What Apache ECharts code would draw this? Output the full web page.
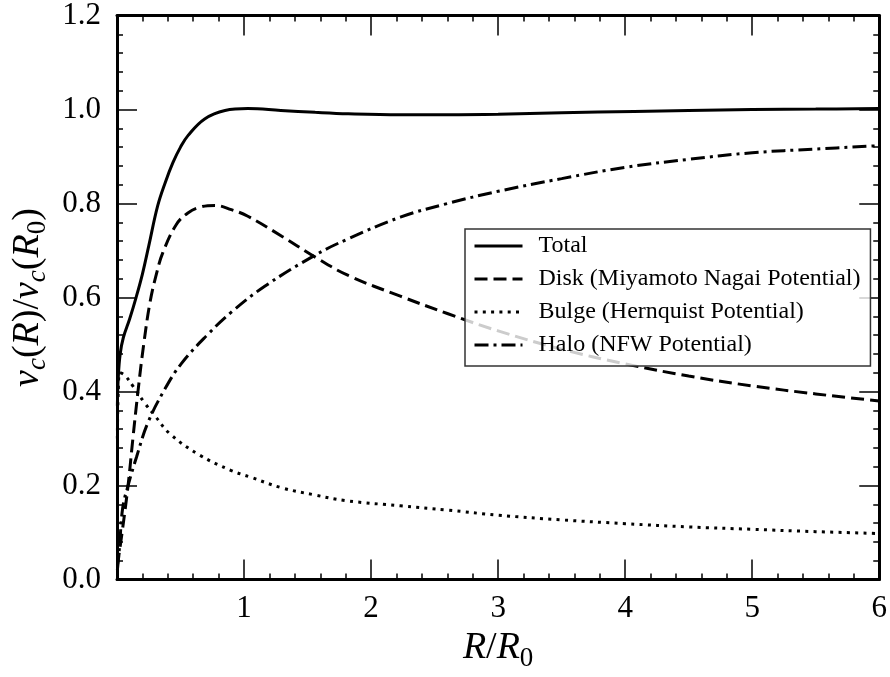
<!DOCTYPE html>
<html><head><meta charset="utf-8">
<script src="https://cdn.jsdelivr.net/npm/echarts@6/dist/echarts.min.js"></script>
<style>html,body{margin:0;padding:0;background:#fff}#c{width:890px;height:677px}</style>
</head><body><div id="c"></div>
<script>
const seriesNames = ['Total', 'Disk (Miyamoto Nagai Potential)', 'Bulge (Hernquist Potential)', 'Halo (NFW Potential)'];

const totalX = [0.003, 0.01, 0.025, 0.05, 0.1, 0.15, 0.2, 0.25, 0.32, 0.38, 0.44, 0.5, 0.56, 0.69, 0.85, 1.03, 1.29, 1.56, 1.82, 2.23, 2.6, 3.0, 3.5, 4.07, 4.5, 5.0, 5.5, 6.0];
const totalY = [0.37, 0.43, 0.48, 0.515, 0.555, 0.6, 0.65, 0.71, 0.795, 0.845, 0.887, 0.92, 0.945, 0.98, 0.998, 1.002, 0.998, 0.994, 0.991, 0.989, 0.989, 0.99, 0.993, 0.996, 0.998, 1.0, 1.001, 1.002];

const diskX = [0.003, 0.04, 0.087, 0.125, 0.165, 0.21, 0.26, 0.31, 0.36, 0.466, 0.558, 0.663, 0.77, 0.9, 1.03, 1.3, 1.56, 1.82, 2.23, 2.6, 3.0, 3.5, 4.0, 4.5, 5.0, 5.5, 6.0];
const diskY = [0.03, 0.1, 0.2, 0.3, 0.4, 0.5, 0.59, 0.65, 0.695, 0.755, 0.78, 0.793, 0.796, 0.787, 0.773, 0.73, 0.686, 0.647, 0.603, 0.566, 0.529, 0.49, 0.459, 0.433, 0.412, 0.395, 0.38];

const bulgeX = [0.003, 0.01, 0.025, 0.06, 0.13, 0.22, 0.3, 0.417, 0.65, 0.9, 1.05, 1.3, 1.558, 1.8, 2.23, 2.6, 3.0, 3.5, 4.0, 4.5, 5.0, 5.5, 6.0];
const bulgeY = [0.3, 0.4, 0.44, 0.435, 0.41, 0.375, 0.348, 0.31, 0.265, 0.232, 0.218, 0.195, 0.18, 0.168, 0.157, 0.148, 0.137, 0.127, 0.119, 0.112, 0.107, 0.102, 0.098];

const haloX = [0.003, 0.02, 0.045, 0.087, 0.155, 0.242, 0.374, 0.505, 0.716, 0.9, 1.163, 1.558, 1.82, 2.23, 2.6, 3.0, 3.5, 4.0, 4.5, 5.0, 5.5, 6.0];
const haloY = [0.02, 0.07, 0.153, 0.2, 0.262, 0.333, 0.404, 0.459, 0.522, 0.569, 0.624, 0.69, 0.725, 0.771, 0.8, 0.826, 0.853, 0.877, 0.894, 0.908, 0.916, 0.923];

const xTicks = [0, 1, 2, 3, 4, 5, 6];
const yTicks = [0, 0.2, 0.4, 0.6, 0.8, 1.0, 1.2];

function pairs(xs, ys) { return xs.map((x, i) => [x, ys[i]]); }

const FONT = 'Liberation Serif';
const chart = echarts.init(document.getElementById('c'), null, { renderer: 'canvas' });

const richName = {
  i: { fontFamily: FONT, fontStyle: 'italic', fontSize: 38, color: '#000' },
  n: { fontFamily: FONT, fontSize: 38, color: '#000' },
  s: { fontFamily: FONT, fontStyle: 'italic', fontSize: 27, color: '#000', padding: [20, 0, 0, 0] },
  s0: { fontFamily: FONT, fontSize: 27, color: '#000', padding: [20, 0, 0, 0] }
};

function xAxisCfg(pos, showLabel) {
  return {
    type: 'value', position: pos, min: xTicks[0], max: xTicks[xTicks.length - 1], interval: 1,
    axisLine: { show: true, onZero: false, lineStyle: { color: '#000', width: 3 } },
    axisTick: { show: true, inside: true, length: 20, lineStyle: { color: '#000', width: 1.5 } },
    minorTick: { show: true, splitNumber: 5, length: 6, lineStyle: { color: '#000', width: 1.5 } },
    splitLine: { show: false },
    axisLabel: { show: showLabel, margin: 14, fontFamily: FONT, fontSize: 31, color: '#000',
      formatter: v => (v === 0 ? '' : String(v)) },
    name: showLabel ? '{i|R}{n|/}{i|R}{s0|0}' : '',
    nameLocation: 'middle', nameGap: 40,
    nameTextStyle: { rich: richName }
  };
}
function yAxisCfg(pos, showLabel) {
  return {
    type: 'value', position: pos, min: yTicks[0], max: yTicks[yTicks.length - 1], interval: 0.2,
    axisLine: { show: true, onZero: false, lineStyle: { color: '#000', width: 3 } },
    axisTick: { show: true, inside: true, length: 20, lineStyle: { color: '#000', width: 1.5 } },
    minorTick: { show: true, splitNumber: 5, length: 6, lineStyle: { color: '#000', width: 1.5 } },
    splitLine: { show: false },
    axisLabel: { show: showLabel, margin: 16, fontFamily: FONT, fontSize: 31, color: '#000',
      formatter: v => v.toFixed(1) },
    name: showLabel ? '{i|v}{s|c}{n|(}{i|R}{n|)/}{i|v}{s|c}{n|(}{i|R}{s0|0}{n|)}' : '',
    nameLocation: 'middle', nameGap: 52,
    nameTextStyle: { rich: richName }
  };
}

const styles = [
  { type: 'solid', width: 3 },
  { type: [13, 6], width: 3 },
  { type: [3, 5.3], width: 3 },
  { type: [14, 5, 3, 5], width: 3 }
];
const datasets = [pairs(totalX, totalY), pairs(diskX, diskY), pairs(bulgeX, bulgeY), pairs(haloX, haloY)];

chart.setOption({
  animation: false,
  backgroundColor: '#fff',
  grid: { left: 117, right: 10, top: 15, bottom: 95, containLabel: false },
  xAxis: [xAxisCfg('bottom', true), xAxisCfg('top', false)],
  yAxis: [yAxisCfg('left', true), yAxisCfg('right', false)],
  legend: {
    orient: 'vertical', left: 465, top: 229,
    itemWidth: 48, itemHeight: 14, itemGap: 9,
    padding: [5, 10, 9, 8],
    backgroundColor: 'rgba(255,255,255,0.8)',
    borderColor: '#333', borderWidth: 1.5, borderRadius: 0,
    lineStyle: { width: 3 },
    itemStyle: { color: 'rgba(0,0,0,0)', borderWidth: 0, opacity: 0 },
    textStyle: { fontFamily: FONT, fontSize: 24, color: '#000', padding: [0, 0, 0, 11] },
    data: seriesNames
  },
  series: seriesNames.map((n, k) => ({
    name: n, type: 'line', data: datasets[k], symbol: 'none', smooth: 0.4,
    clip: true,
    lineStyle: { color: '#000', width: styles[k].width, type: styles[k].type, cap: 'butt' },
    itemStyle: { color: '#000' }
  }))
});
</script></body></html>
